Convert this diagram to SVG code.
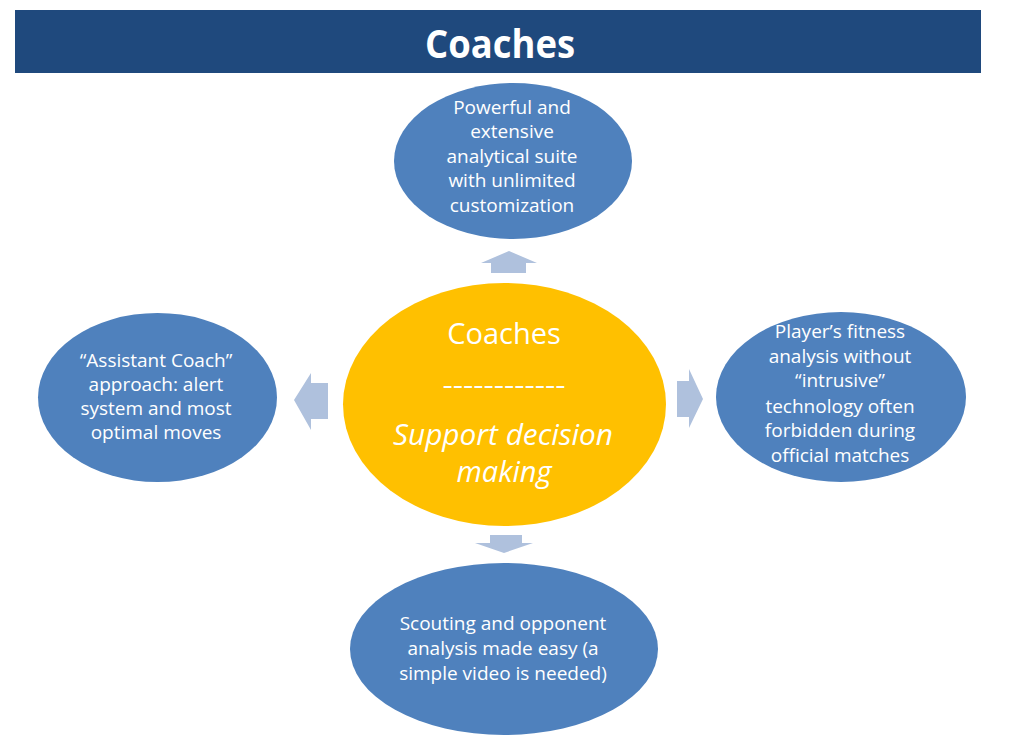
<svg xmlns="http://www.w3.org/2000/svg" width="1013" height="740" viewBox="0 0 1013 740">
<style>
.bn{fill:#4F81BD;}
.arr{fill:#AFC1DD;}
.t{font-family:"Open Sans","Noto Sans","Liberation Sans",sans-serif;fill:#FFFFFF;text-anchor:middle;}
.n{font-size:19px;}
</style>
<rect width="1013" height="740" fill="#FFFFFF"/>
<g id="header">
<rect x="15" y="10" width="966" height="63" fill="#1F497D"/>
<text class="t" x="500" y="58" font-size="40" font-weight="bold" textLength="150" lengthAdjust="spacingAndGlyphs">Coaches</text>
</g>
<g id="connectors">
<path class="arr" d="M491,273 L491,263 L481,263 L509,251 L537,263 L526,263 L526,273 Z"/>
<path class="arr" d="M328,383 L311,383 L311,373 L294,400 L311,430 L311,419 L328,419 Z"/>
<path class="arr" d="M677,381 L689,381 L689,369 L703,399 L689,428 L689,417 L677,417 Z"/>
<path class="arr" d="M490,535 L522,535 L522,543 L533,543 L504,553 L475,543 L490,543 Z"/>
</g>
<g id="node-center">
<ellipse cx="504.5" cy="404.5" rx="161.5" ry="121.5" fill="#FFC000"/>
<text class="t" x="504" y="344" font-size="29">Coaches</text>
<text class="t" x="504" y="394" font-size="28" textLength="123" lengthAdjust="spacingAndGlyphs">------------</text>
<text class="t" x="503" y="445" font-size="29" font-style="italic" textLength="220" lengthAdjust="spacingAndGlyphs">Support decision</text>
<text class="t" x="504" y="482" font-size="29" font-style="italic">making</text>
</g>
<g id="node-top">
<ellipse class="bn" cx="513" cy="161" rx="119" ry="78"/>
<text class="t n" x="512" y="114">Powerful and</text>
<text class="t n" x="512" y="138">extensive</text>
<text class="t n" x="512" y="163">analytical suite</text>
<text class="t n" x="512" y="187">with unlimited</text>
<text class="t n" x="512" y="212">customization</text>
</g>
<g id="node-left">
<ellipse class="bn" cx="157.5" cy="397.5" rx="119.5" ry="84.5"/>
<text class="t n" x="156" y="367">“Assistant Coach”</text>
<text class="t n" x="156" y="391">approach: alert</text>
<text class="t n" x="156" y="415">system and most</text>
<text class="t n" x="156" y="439">optimal moves</text>
</g>
<g id="node-right">
<ellipse class="bn" cx="841" cy="397" rx="125" ry="85"/>
<text class="t n" x="840" y="338">Player’s fitness</text>
<text class="t n" x="840" y="363">analysis without</text>
<text class="t n" x="840" y="387">“intrusive”</text>
<text class="t n" x="840" y="413">technology often</text>
<text class="t n" x="840" y="437">forbidden during</text>
<text class="t n" x="840" y="462">official matches</text>
</g>
<g id="node-bottom">
<ellipse class="bn" cx="504" cy="649" rx="154" ry="86"/>
<text class="t n" x="503" y="630">Scouting and opponent</text>
<text class="t n" x="503" y="655">analysis made easy (a</text>
<text class="t n" x="503" y="680">simple video is needed)</text>
</g>
</svg>
